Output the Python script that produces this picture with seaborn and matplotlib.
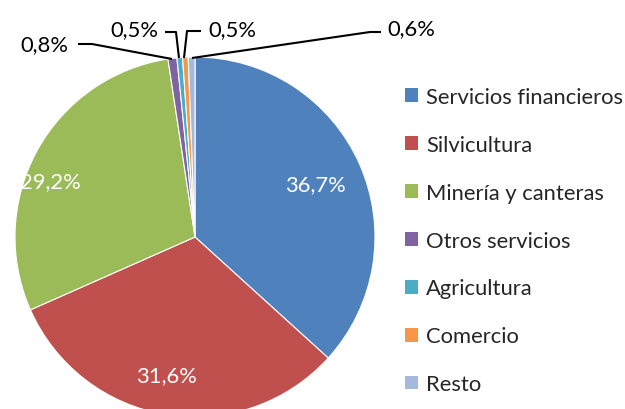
import matplotlib
matplotlib.use("Agg")
import matplotlib.pyplot as plt
from matplotlib.patches import Patch
import seaborn as sns

categories = ["Servicios financieros", "Silvicultura", "Minería y canteras",
              "Otros servicios", "Agricultura", "Comercio", "Resto"]
values = [36.7, 31.6, 29.2, 0.8, 0.5, 0.5, 0.6]
labels = ["36,7%", "31,6%", "29,2%", "0,8%", "0,5%", "0,5%", "0,6%"]

sns.set_theme(style="white")
plt.rcParams["font.family"] = ["Lato", "DejaVu Sans"]

colors = ["#4F81BD", "#C0504D", "#9BBB59", "#8064A2", "#4BACC6", "#F79646", "#A5B9DE"]
FS = 15.8

fig = plt.figure(figsize=(6.25, 4.1), dpi=100)
W, H = 625, 410
cx, cy, R = 195, 238, 180
ax = fig.add_axes([(cx - R) / W, (H - cy - R) / H, 2 * R / W, 2 * R / H])

wedges, _ = ax.pie(values, colors=colors, startangle=90, counterclock=False,
                   wedgeprops=dict(edgecolor="white", linewidth=0.8),
                   radius=1)
ax.set_xlim(-1, 1)
ax.set_ylim(-1, 1)
ax.set_aspect("equal")
ax.axis("off")
for w in wedges:
    w.set_clip_on(False)

def d(px, py):
    return ((px - cx) / R, (cy - py) / R)

# inside labels (pixel positions of label centres)
inside_pos = [(315, 185), (167, 376), (50, 182)]
for lab, (px, py) in zip(labels[:3], inside_pos):
    x, y = d(px, py)
    ax.text(x, y, lab, color="white", fontsize=FS, ha="center", va="center")

# outside labels with leader lines
outside = [
    ((44, 45), [(78, 45), (92, 45), (172, 60)]),
    ((134, 30), [(165, 33), (176, 33), (179, 59)]),
    ((232, 30), [(201, 32), (187, 32), (184, 59)]),
    ((411, 29), [(381, 33), (370, 33), (192, 59)]),
]
for lab, ((tx, ty), pts) in zip(labels[3:], outside):
    x, y = d(tx, ty)
    ax.text(x, y, lab, color="black", fontsize=FS, ha="center", va="center",
            clip_on=False)
    xs = [d(*p)[0] for p in pts]
    ys = [d(*p)[1] for p in pts]
    ax.plot(xs, ys, color="black", lw=1.5, clip_on=False, solid_capstyle="butt")

handles = [Patch(facecolor=c, edgecolor="none") for c in colors]
fig.legend(handles, categories, loc="upper left",
           bbox_to_anchor=(405 / W, 1 - 88 / H), frameon=False,
           fontsize=FS, handlelength=0.6, handleheight=0.6,
           handletextpad=0.35, labelspacing=1.27, borderpad=0, borderaxespad=0)

fig.savefig("out.png", dpi=100)
